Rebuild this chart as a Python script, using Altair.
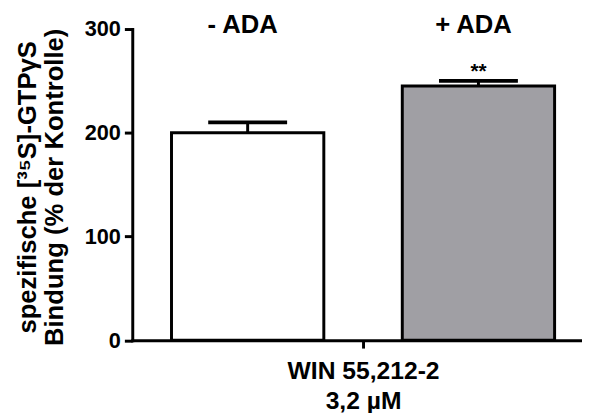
import altair as alt
import pandas as pd

groups = ["- ADA", "+ ADA"]
means = [200, 245]
sems = [10, 5]
sig_marks = ["", "**"]
drug = "WIN 55,212-2 3,2 µM"
x_title = ["WIN 55,212-2", "3,2 µM"]
y_title = ["spezifische [³⁵S]-GTPγS", "Bindung (% der Kontrolle)"]
y_ticks = [0, 100, 200, 300]
fills = ["#ffffff", "#a09fa4"]

df = pd.DataFrame({
    "drug": [drug] * len(groups),
    "group": groups,
    "mean": means,
    "sem": sems,
    "sig": sig_marks,
})
df["hi"] = df["mean"] + df["sem"]

FONT = "Liberation Sans"

x_enc = alt.X(
    "drug:N",
    scale=alt.Scale(paddingInner=0, paddingOuter=0),
    axis=alt.Axis(
        labels=False, title=x_title, titleFont=FONT, titleFontSize=25,
        titleFontWeight="bold", titleColor="black", titleLineHeight=30,
        titleBaseline="alphabetic", titleY=39, titlePadding=0,
        domainColor="black", domainWidth=3, tickColor="black",
        tickWidth=3, tickSize=8,
    ),
)
xoff = alt.XOffset(
    "group:N",
    sort=groups,
    scale=alt.Scale(domain=groups, paddingInner=0.34, paddingOuter=0.17),
)
y_scale = alt.Scale(domain=[0, 300], nice=False)

base = alt.Chart(df)

bars = base.mark_bar(stroke="black", strokeWidth=3, opacity=1).encode(
    x=x_enc,
    xOffset=xoff,
    y=alt.Y(
        "mean:Q",
        scale=y_scale,
        axis=alt.Axis(
            values=y_ticks, title=y_title, titleFont=FONT, titleFontSize=26,
            titleFontWeight="bold", titleColor="black", titleLineHeight=27,
            titleAngle=-90, titleBaseline="bottom", titleX=-93, titleY=160,
            titleAlign="center",
            labelFont=FONT, labelFontSize=22, labelFontWeight="bold",
            labelColor="black", labelPadding=4,
            domainColor="black", domainWidth=3, tickColor="black",
            tickWidth=3, tickSize=8, grid=False,
        ),
    ),
    fill=alt.Fill("group:N", scale=alt.Scale(domain=groups, range=fills), legend=None),
)

stems = base.mark_rule(color="black", strokeWidth=3, opacity=1).encode(
    x=alt.X("drug:N"),
    xOffset=xoff,
    y=alt.Y("mean:Q", scale=y_scale),
    y2="hi:Q",
)

caps = base.mark_tick(color="black", thickness=4, size=80, orient="horizontal", opacity=1).encode(
    x=alt.X("drug:N"),
    xOffset=xoff,
    y=alt.Y("hi:Q", scale=y_scale),
)

stars = base.mark_text(
    font=FONT, fontSize=21, fontWeight="bold", color="black",
    baseline="alphabetic", dy=-3,
).encode(
    x=alt.X("drug:N"),
    xOffset=xoff,
    y=alt.Y("hi:Q", scale=y_scale),
    text="sig:N",
)

heads = base.mark_text(
    font=FONT, fontSize=26, fontWeight="bold", color="black",
    baseline="alphabetic", dx=-5,
).encode(
    x=alt.X("drug:N"),
    xOffset=xoff,
    y=alt.value(4),
    text="group:N",
)

chart = alt.layer(bars, stems, caps, stars, heads).properties(
    width=468,
    height=315.5,
    autosize=alt.AutoSizeParams(type="none"),
    padding={"left": 126, "top": 18.5, "right": -12, "bottom": 71},
).configure_view(stroke=None).configure_axis(domainCap="square")

chart.save("out.html", embed_options={"renderer": "svg", "actions": False})
